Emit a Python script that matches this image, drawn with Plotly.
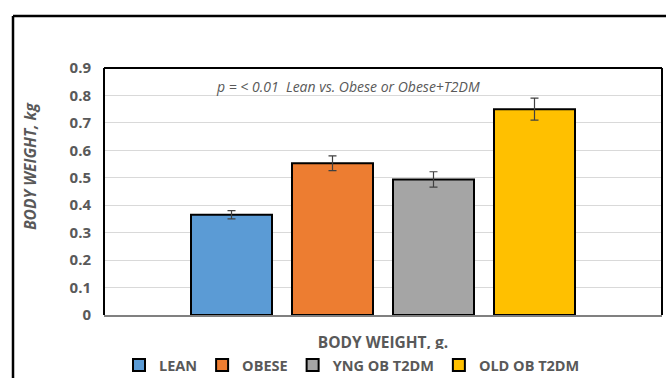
import plotly.graph_objects as go

# Body weight by group (kg), mean and SEM
groups = ["LEAN", "OBESE", "YNG OB T2DM", "OLD OB T2DM"]
weights = [0.365, 0.553, 0.494, 0.750]
sem = [0.015, 0.027, 0.028, 0.040]
colors = ["#5B9BD5", "#ED7D31", "#A5A5A5", "#FFC000"]
category = ["BODY WEIGHT, g."]
y_ticks = [0, 0.1, 0.2, 0.3, 0.4, 0.5, 0.6, 0.7, 0.8, 0.9]

W, H = 666, 378
L, R, T, B = 104, 4, 68, 63
PW, PH = W - L - R, H - T - B


def px(x):
    return (x - L) / PW


def py(y):
    return (H - B - y) / PH


TXT = "#595959"
FONT = "Open Sans"

fig = go.Figure()
for name, val, err, col in zip(groups, weights, sem, colors):
    fig.add_trace(go.Bar(
        name=name,
        x=category,
        y=[val],
        marker=dict(color=col, line=dict(color="#000000", width=2)),
        error_y=dict(type="data", array=[err], color="#404040",
                     thickness=1.2, width=4),
    ))

shapes = [
    # plot area frame (left, top, right)
    dict(type="line", xref="paper", yref="paper", x0=0, x1=0, y0=0, y1=1,
         line=dict(color="#000000", width=2)),
    dict(type="line", xref="paper", yref="paper", x0=0, x1=1, y0=1, y1=1,
         line=dict(color="#000000", width=2)),
    dict(type="line", xref="paper", yref="paper", x0=1, x1=1, y0=0, y1=1,
         line=dict(color="#000000", width=2)),
    # outer chart frame
    dict(type="line", xref="paper", yref="paper", x0=px(13), x1=px(13),
         y0=py(H + 2), y1=py(16), line=dict(color="#000000", width=2.5)),
    dict(type="line", xref="paper", yref="paper", x0=px(13), x1=px(W + 2),
         y0=py(16), y1=py(16), line=dict(color="#000000", width=2.5)),
]

fig.update_layout(
    width=W, height=H,
    margin=dict(l=L, r=R, t=T, b=B, autoexpand=False),
    paper_bgcolor="white", plot_bgcolor="white",
    barmode="group", bargap=0.276, bargroupgap=0.198,
    showlegend=True,
    legend=dict(orientation="h", x=px(352), xanchor="center", y=py(365),
                yanchor="middle", font=dict(family=FONT, size=14.5, color=TXT,
                                              weight="bold"),
                itemwidth=30, tracegroupgap=0),
    font=dict(family=FONT, color=TXT),
    shapes=shapes,
    annotations=[
        dict(text="p = < 0.01  Lean vs. Obese or Obese+T2DM", xref="paper",
             yref="paper", x=px(214), y=py(87), xanchor="left",
             yanchor="middle", showarrow=False,
             font=dict(family=FONT, size=14, color=TXT, style="italic")),
        dict(text="BODY WEIGHT, kg", xref="paper", yref="paper",
             x=px(30), y=py(167), textangle=-90, showarrow=False,
             xanchor="center", yanchor="middle",
             font=dict(family=FONT, size=15.5, color=TXT, weight="bold",
                       style="italic")),
    ],
)

fig.update_yaxes(
    range=[0, 0.9], tickvals=y_ticks,
    ticktext=["0" if v == 0 else f"{v:.1f}" for v in y_ticks],
    showgrid=True, gridcolor="#D9D9D9", gridwidth=1,
    zeroline=False, showline=False, ticks="",
    ticklabelstandoff=12,
    tickfont=dict(family=FONT, size=15, color=TXT, weight="bold"),
)
fig.update_xaxes(
    showline=True, linecolor="#808080", linewidth=2, ticks="",
    ticklabelstandoff=12,
    tickfont=dict(family=FONT, size=15.5, color=TXT, weight="bold"),
)

fig.write_html("out.html")
